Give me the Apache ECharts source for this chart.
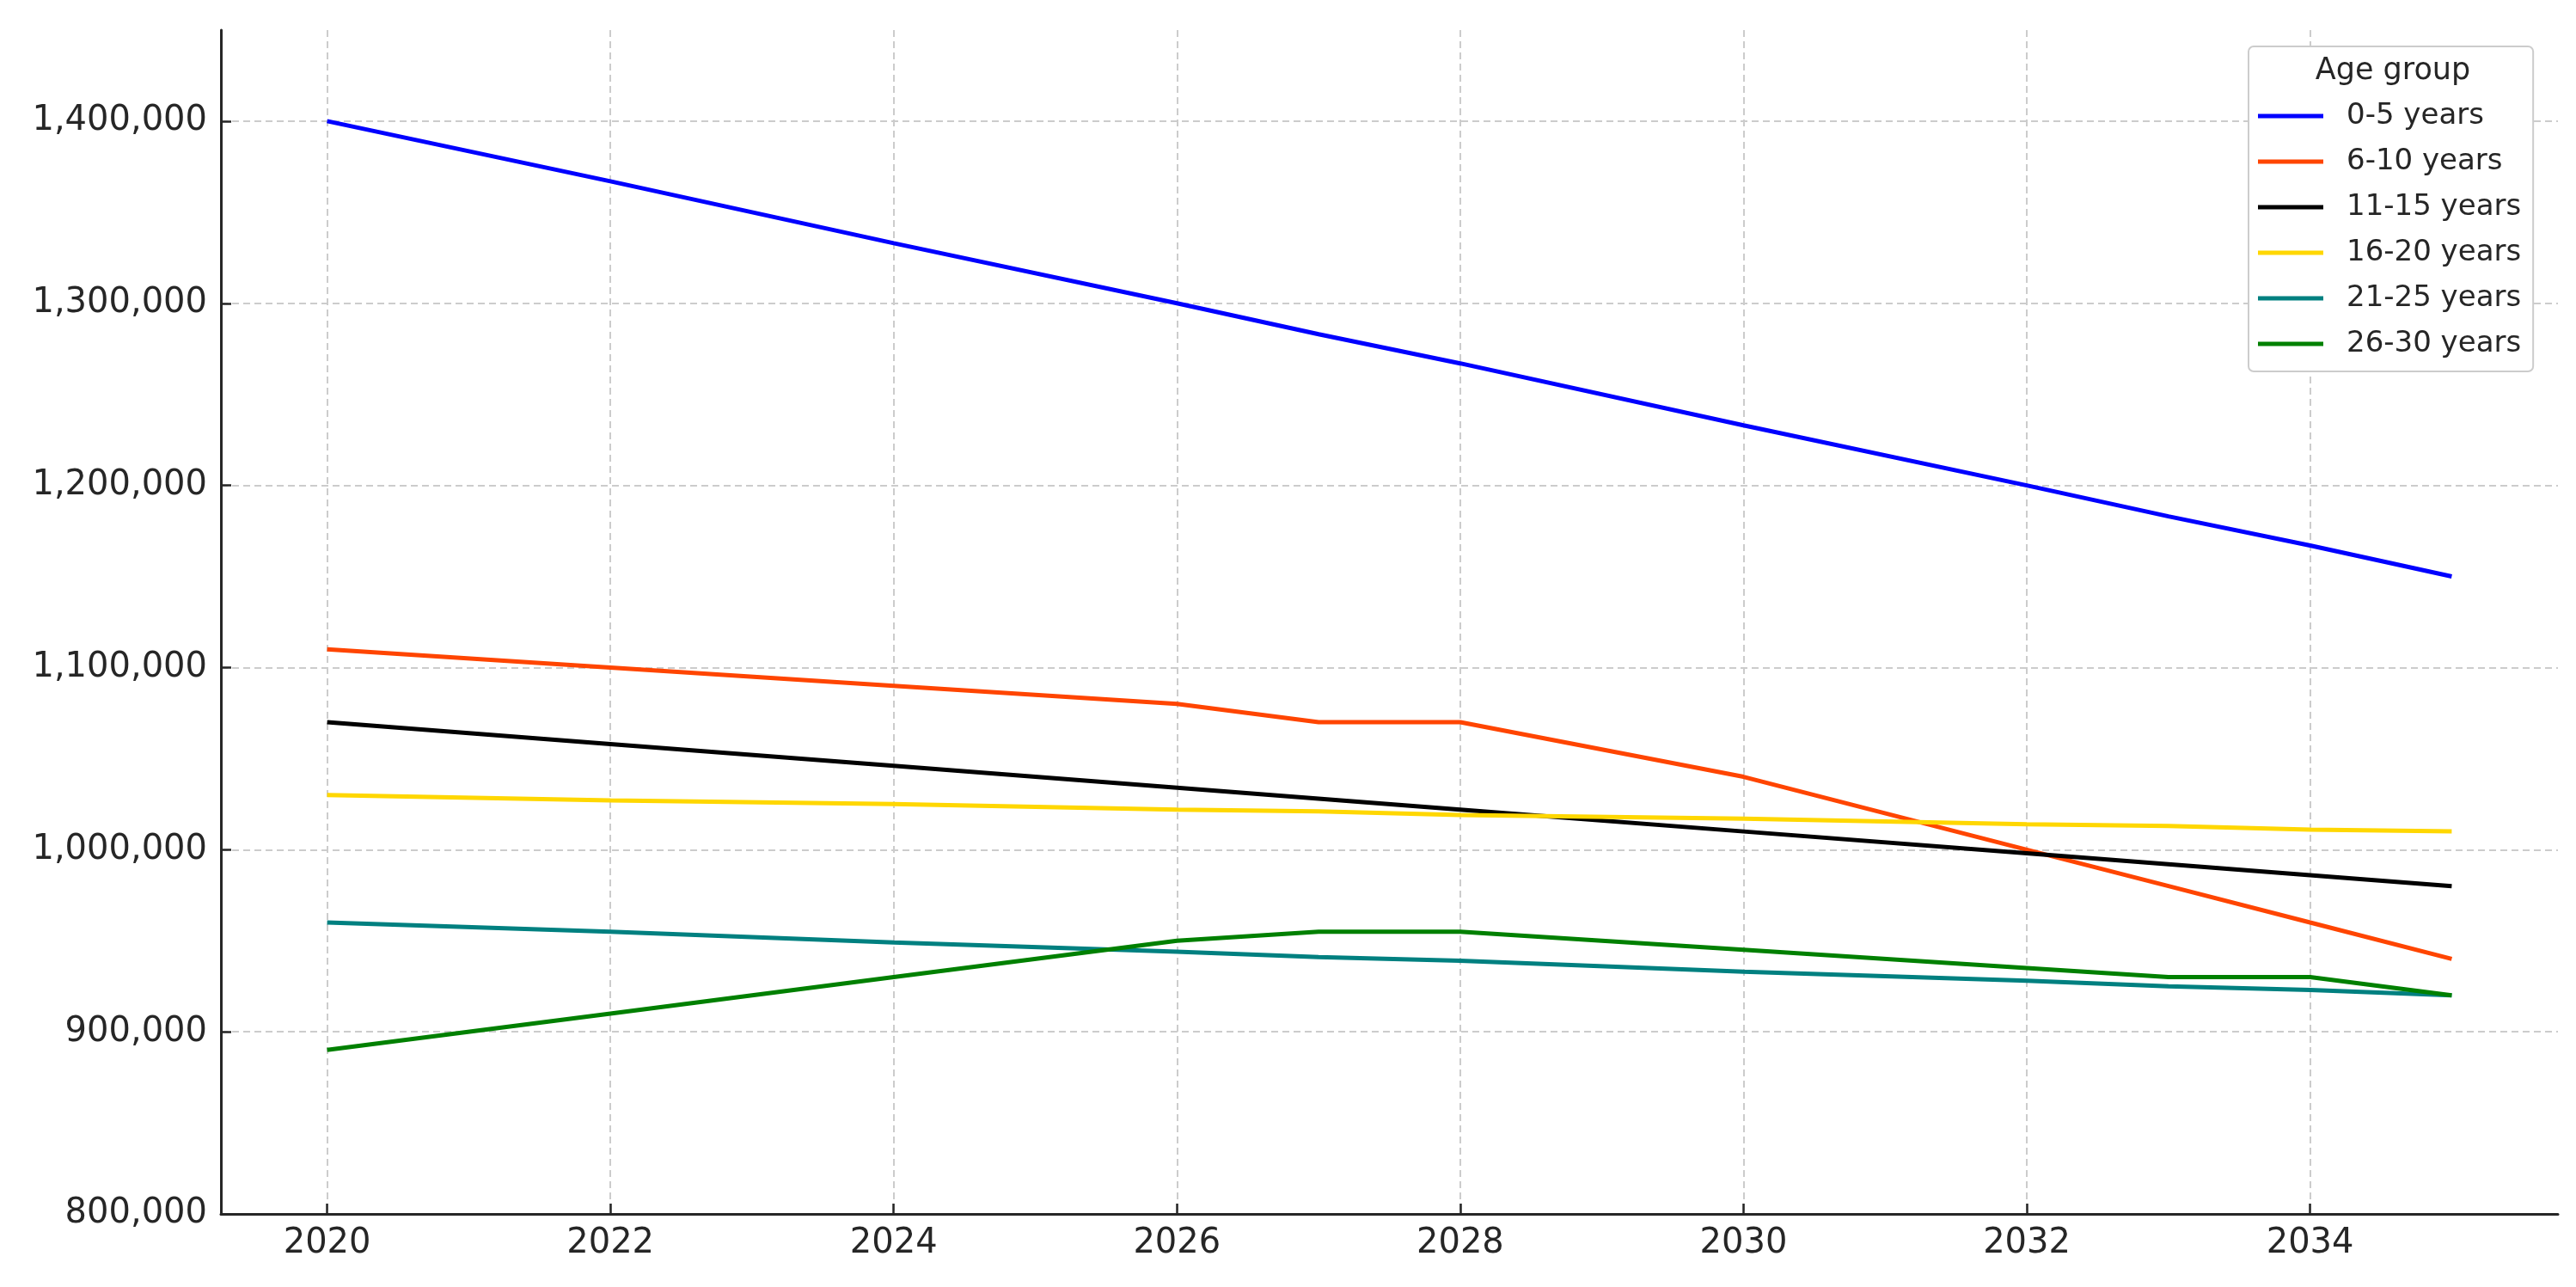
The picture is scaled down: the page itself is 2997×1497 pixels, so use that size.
<!DOCTYPE html>
<html>
<head>
<meta charset="utf-8">
<script src="https://cdn.jsdelivr.net/npm/echarts@6/dist/echarts.min.js"></script>
<style>
html, body { margin: 0; padding: 0; background: #fff; }
#chart { width: 2997px; height: 1497px; }
</style>
</head>
<body>
<div id="chart"></div>
<script>
const years = [2020, 2022, 2024, 2026, 2027, 2028, 2030, 2032, 2033, 2034, 2035];
const age0to5   = [1400000, 1367000, 1333000, 1300000, 1283000, 1267000, 1233000, 1200000, 1183000, 1167000, 1150000];
const age6to10  = [1110000, 1100000, 1090000, 1080000, 1070000, 1070000, 1040000, 1000000, 980000, 960000, 940000];
const age11to15 = [1070000, 1058000, 1046000, 1034000, 1028000, 1022000, 1010000, 998000, 992000, 986000, 980000];
const age16to20 = [1030000, 1027000, 1025000, 1022000, 1021000, 1019000, 1017000, 1014000, 1013000, 1011000, 1010000];
const age21to25 = [960000, 955000, 949000, 944000, 941000, 939000, 933000, 928000, 925000, 923000, 920000];
const age26to30 = [890000, 910000, 930000, 950000, 955000, 955000, 945000, 935000, 930000, 930000, 920000];
const seriesNames = ['0-5 years', '6-10 years', '11-15 years', '16-20 years', '21-25 years', '26-30 years'];
const seriesColors = ['#0000FF', '#FF4500', '#000000', '#FFD700', '#008080', '#008000'];
const xTicks = [2020, 2022, 2024, 2026, 2028, 2030, 2032, 2034];
const yTicks = [800000, 900000, 1000000, 1100000, 1200000, 1300000, 1400000];
const legendTitle = 'Age group';

const allSeries = [age0to5, age6to10, age11to15, age16to20, age21to25, age26to30];
const FONT = 'DejaVu Sans';
const TXT = '#262626';

const chart = echarts.init(document.getElementById('chart'), null, { renderer: 'canvas' });
chart.setOption({
  backgroundColor: '#ffffff',
  animation: false,
  grid: { left: 257, right: 21, top: 35, bottom: 85, containLabel: false, outerBoundsMode: 'none' },
  xAxis: {
    type: 'value',
    min: 2019.25,
    max: 2035.75,
    axisLine: { show: true, lineStyle: { color: '#262626', width: 3 } },
    axisTick: { show: true, inside: true, length: 12, customValues: xTicks, lineStyle: { color: '#262626', width: 2.5 } },
    axisLabel: { customValues: xTicks, margin: 15, fontSize: 40, fontFamily: FONT, color: TXT, formatter: v => String(v) },
    splitLine: { show: true, lineStyle: { color: '#cccccc', width: 2, type: [8, 5] } }
  },
  yAxis: {
    type: 'value',
    min: 800000,
    max: 1450000,
    axisLine: { show: true, lineStyle: { color: '#262626', width: 3 } },
    axisTick: { show: true, inside: true, length: 12, customValues: yTicks, lineStyle: { color: '#262626', width: 2.5 } },
    axisLabel: { customValues: yTicks, margin: 16, fontSize: 40, fontFamily: FONT, color: TXT, formatter: v => v.toLocaleString('en-US') },
    splitLine: { show: true, lineStyle: { color: '#cccccc', width: 2, type: [8, 5] } }
  },
  legend: {
    orient: 'vertical',
    left: 2616,
    top: 54,
    width: 337,
    padding: [62, 14, 13, 11],
    backgroundColor: '#ffffff',
    borderColor: '#cccccc',
    borderWidth: 2,
    borderRadius: 6,
    icon: 'rect',
    itemWidth: 76,
    itemHeight: 5,
    itemGap: 15,
    textStyle: { fontSize: 34, fontFamily: FONT, color: TXT, lineHeight: 38, padding: [0, 0, 0, 22] },
    data: seriesNames
  },
  graphic: [{
    type: 'text',
    x: 2784,
    y: 83,
    style: { text: legendTitle, fontSize: 35, fontFamily: FONT, fill: TXT, align: 'center', verticalAlign: 'middle' },
    z: 100
  }],
  series: seriesNames.map((name, i) => ({
    name: name,
    type: 'line',
    symbol: 'none',
    showSymbol: false,
    color: seriesColors[i],
    lineStyle: { width: 5, color: seriesColors[i] },
    data: years.map((y, j) => [y, allSeries[i][j]])
  }))
});
</script>
</body>
</html>
